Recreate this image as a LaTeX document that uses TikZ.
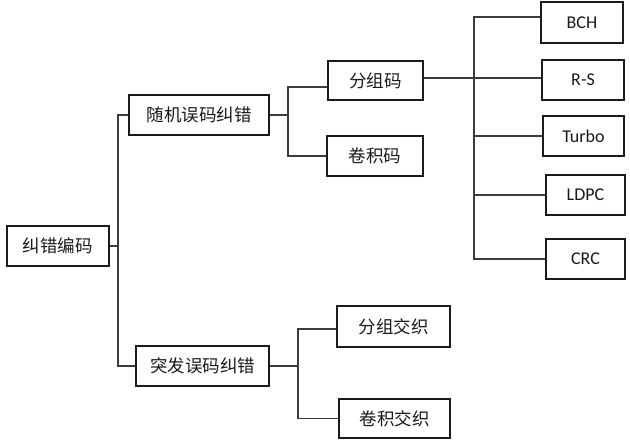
\documentclass[tikz,border=0pt]{standalone}
\usepackage{fontspec}
\setmainfont{Carlito}
\newfontfamily\cjk{Noto Sans CJK SC}
\usepackage{tikz}
\usetikzlibrary{calc}
\definecolor{ink}{HTML}{1A1A1A}
\definecolor{wire}{HTML}{3C3C3C}
\tikzset{
  box/.style  = {rectangle, draw=ink, line width=1.1pt, fill=white, text=ink, align=center,
                 inner sep=0pt, minimum height=40pt, font=\fontsize{17.5}{20}\selectfont\cjk},
  lbox/.style = {box, font=\fontsize{18}{20}\selectfont},
  ln/.style   = {draw=wire, line width=1.1pt},
}
\begin{document}
\begin{tikzpicture}[x=1pt,y=-1pt]
\useasboundingbox (0,0) rectangle (630,444);
% first level
\node[box, minimum width=102pt] (root)  at (58,246)    {纠错编码};
\node[box, minimum width=140pt] (rand)  at (199,115)   {随机误码纠错};
\node[box, minimum width=133pt] (burst) at (202.5,366) {突发误码纠错};
% codes
\node[box, minimum width=95pt, minimum height=39pt] (fz) at (375.5,80.5) {分组码};
\node[box, minimum width=96pt] (jj) at (375,156) {卷积码};
% interleaving
\node[box, minimum width=113pt, minimum height=41pt] (fzjz) at (393.5,326.5) {分组交织};
\node[box, minimum width=111pt, minimum height=39pt] (jjjz) at (394.5,418.5) {卷积交织};
% block codes
\node[lbox, minimum width=82pt, minimum height=41pt] (bch) at (582,22.5) {BCH};
\node[lbox, minimum width=82pt] (rs)    at (583,80)    {R-S};
\node[lbox, minimum width=81pt] (turbo) at (583.5,136) {Turbo};
\node[lbox, minimum width=79pt] (ldpc)  at (585.5,195) {LDPC};
\node[lbox, minimum width=79pt] (crc)   at (585.5,259) {CRC};
% junctions
\coordinate (k1) at (118,246);
\coordinate (k2) at (288,115);
\coordinate (k3) at (474,78);
\coordinate (k4) at (298,366);
% edges
\draw[ln] (root.east) -- (k1);
\draw[ln] (rand.west) -| (k1) |- (burst.west);
\draw[ln] (rand.east) -- (k2);
\draw[ln] ([yshift=-6.5pt]fz.west) -| (k2) |- (jj.west);
\draw[ln] (burst.east) -- (k4);
\draw[ln] ([yshift=-2.5pt]fzjz.west) -| (k4) |- (jjjz.west);
\draw[ln] (fz.east |- k3) -- (rs.west |- k3);
\draw[ln] ([yshift=5.5pt]bch.west) -| (k3) |- (crc.west);
\draw[ln] (k3 |- turbo.west) -- (turbo.west);
\draw[ln] (k3 |- ldpc.west) -- (ldpc.west);
\end{tikzpicture}
\end{document}
